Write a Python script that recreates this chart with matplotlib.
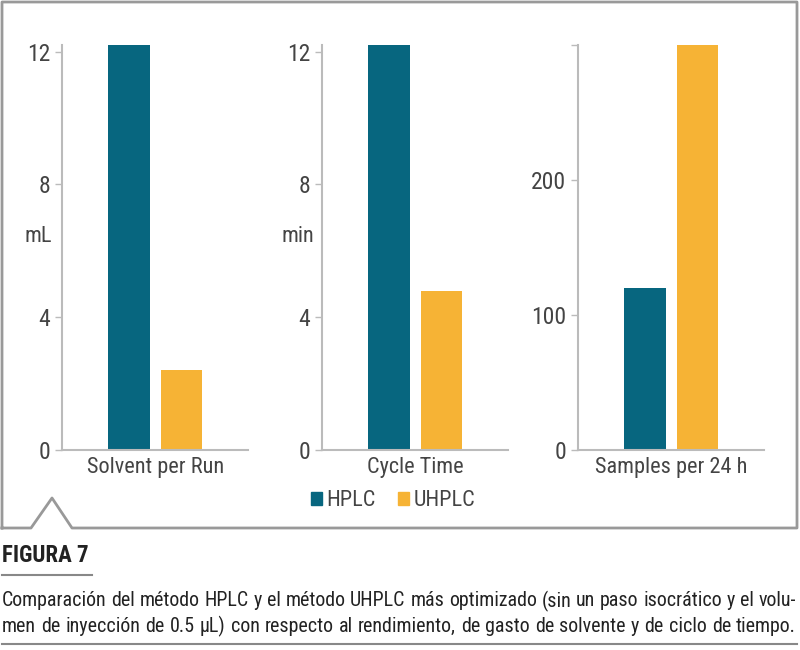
import matplotlib
matplotlib.use("Agg")
import matplotlib.pyplot as plt
from matplotlib import font_manager
from matplotlib.lines import Line2D
from matplotlib.patches import Patch

# look for a condensed sans face among installed fonts
cond = None
pref = ["Liberation Sans Narrow", "Roboto Condensed", "Open Sans Condensed", "DejaVu Sans"]
cands = [f for f in font_manager.fontManager.ttflist
         if ("ondensed" in str(f.stretch) or "Condensed" in f.fname or "Narrow" in f.fname)
         and f.weight in (400, "normal", "regular") and f.style == "normal"]
for p in pref:
    for f in cands:
        if f.name == p:
            cond = f
            break
    if cond:
        break
if cond is None and cands:
    cond = cands[0]

if cond is not None:
    font_manager.fontManager.addfont(cond.fname)
    plt.rcParams['font.family'] = [cond.name, 'DejaVu Sans']
    plt.rcParams['font.stretch'] = cond.stretch
else:
    plt.rcParams['font.family'] = ['Liberation Sans', 'DejaVu Sans']

# data
groups = ["Solvent per Run", "Cycle Time", "Samples per 24 h"]
units = ["mL", "min", ""]
hplc = [12.2, 12.2, 120]
uhplc = [2.4, 4.8, 300]
yticks = [[0, 4, 8, 12], [0, 4, 8, 12], [0, 100, 200, 300]]
ytick_labels = [["0", "4", "8", "12"], ["0", "4", "8", "12"], ["0", "100", "200", ""]]
ylims = [12.2, 12.2, 300]
series = ["HPLC", "UHPLC"]
colors = ["#07667f", "#f6b335"]

caption_title = "FIGURA 7"
caption_lines = [
    "Comparación del método HPLC y el método UHPLC más optimizado (sin un paso isocrático y el volu-",
    "men de inyección de 0.5 µL) con respecto al rendimiento, de gasto de solvente y de ciclo de tiempo.",
]

txt = "#444444"
axc = "#bbbbbb"

fig = plt.figure(figsize=(8, 6.5), dpi=100)
W, H = 800, 650

def fx(px):
    return px / W

def fy(py):
    return 1 - py / H

lefts = [62, 322, 578]
for i, g in enumerate(groups):
    ax = fig.add_axes([fx(lefts[i]), fy(450), fx(186), fy(45) - fy(450)])
    ax.bar(0, hplc[i], width=0.8, color=colors[0])
    ax.bar(1, uhplc[i], width=0.8, color=colors[1])
    ax.set_xlim(-1.28, 2.27)
    ax.set_ylim(0, ylims[i])
    ax.set_yticks(yticks[i])
    ax.set_yticklabels(ytick_labels[i])
    ax.set_xticks([0.5])
    ax.set_xticklabels([g])
    for s in ["top", "right"]:
        ax.spines[s].set_visible(False)
    for s in ["left", "bottom"]:
        ax.spines[s].set_color(axc)
        ax.spines[s].set_linewidth(1.5)
    ax.tick_params(axis="y", colors=axc, labelcolor=txt, labelsize=17, length=5, width=1)
    ax.tick_params(axis="x", length=0, labelcolor=txt, labelsize=16, pad=5)
    if units[i]:
        ax.set_ylabel(units[i], rotation=0, fontsize=16, color=txt)
        ax.yaxis.set_label_coords(-0.13, 0.5)

handles = [Patch(color=c) for c in colors]
fig.legend(handles, series, loc="center", bbox_to_anchor=(fx(393), fy(501)), ncol=2,
           frameon=False, fontsize=16, handlelength=0.5, handleheight=0.5,
           handletextpad=0.2, columnspacing=1.0, labelcolor=txt)

# frame with notch
bc = "#999999"
xs = [2, 2, 797, 797, 72, 52, 31, 2]
ys = [528, 2, 2, 528, 528, 498, 528, 528]
fig.add_artist(Line2D([fx(x) for x in xs], [fy(y) for y in ys], color=bc, lw=2))

# caption
fig.text(fx(2), fy(556), caption_title, fontsize=16.5, fontweight="bold", color="#222222", va="center")
fig.add_artist(Line2D([fx(2), fx(92)], [fy(575), fy(575)], color="#888888", lw=1.5))

# justified caption lines: fit font size to width, then spread words
renderer = fig.canvas.get_renderer()
x0, x1 = 2, 796
size = 15
for line in caption_lines:
    t = fig.text(0, 0, line, fontsize=15)
    w = t.get_window_extent(renderer).width
    t.remove()
    size = min(size, 15 * (x1 - x0) / w)
for k, line in enumerate(caption_lines):
    words = line.split(" ")
    ws = []
    for wd in words:
        t = fig.text(0, 0, wd, fontsize=size)
        ws.append(t.get_window_extent(renderer).width)
        t.remove()
    gap = ((x1 - x0) - sum(ws)) / (len(words) - 1)
    x = x0
    for wd, wdw in zip(words, ws):
        fig.text(fx(x), fy(601 + 25 * k), wd, fontsize=size, color="#222222", va="center")
        x += wdw + gap
fig.add_artist(Line2D([fx(2), fx(797)], [fy(644), fy(644)], color="#888888", lw=1.5))

fig.savefig("out.png", dpi=100)
